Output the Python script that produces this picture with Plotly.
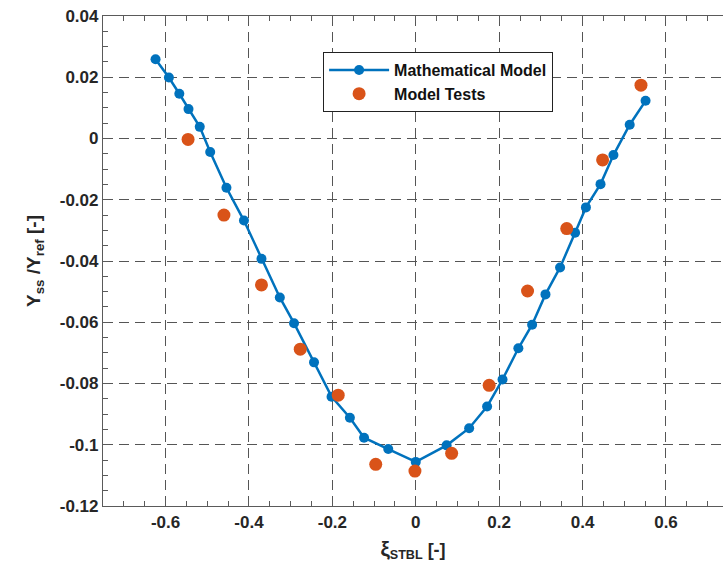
import plotly.graph_objects as go

# Mathematical model (blue line with markers)
model_x = [-0.624, -0.592, -0.567, -0.545, -0.518, -0.493, -0.454, -0.412, -0.370, -0.326,
           -0.292, -0.244, -0.202, -0.158, -0.124, -0.066, 0.000, 0.074, 0.128, 0.171,
           0.208, 0.246, 0.279, 0.311, 0.346, 0.382, 0.408, 0.443, 0.474, 0.513, 0.551]
model_y = [0.0259, 0.0199, 0.0146, 0.0096, 0.0038, -0.0044, -0.0161, -0.0268, -0.0393, -0.0519,
           -0.0603, -0.0731, -0.0843, -0.0912, -0.0977, -0.1014, -0.1056, -0.1002, -0.0946, -0.0875,
           -0.0787, -0.0685, -0.0608, -0.0509, -0.0421, -0.0308, -0.0225, -0.0149, -0.0054, 0.0045, 0.0123]

# Model tests (orange markers)
test_x = [-0.546, -0.460, -0.370, -0.277, -0.186, -0.096, -0.002, 0.086, 0.176, 0.268, 0.362, 0.448, 0.540]
test_y = [-0.0003, -0.0250, -0.0478, -0.0688, -0.0838, -0.1064, -0.1086, -0.1028, -0.0806, -0.0498,
          -0.0294, -0.0070, 0.0174]

x_ticks = [-0.6, -0.4, -0.2, 0, 0.2, 0.4, 0.6]
x_ticklabels = ["-0.6", "-0.4", "-0.2", "0", "0.2", "0.4", "0.6"]
y_ticks = [0.04, 0.02, 0, -0.02, -0.04, -0.06, -0.08, -0.1, -0.12]
y_ticklabels = ["0.04", "0.02", "0", "-0.02", "-0.04", "-0.06", "-0.08", "-0.1", "-0.12"]

BLUE = "#0072BD"
ORANGE = "#D95319"
AXC = "#5a5a5a"
TXT = "#262626"
FONT = "Liberation Sans, Arial, sans-serif"

fig = go.Figure()
fig.add_trace(go.Scatter(x=model_x, y=model_y, mode="lines+markers", name="Mathematical Model",
                         line=dict(color=BLUE, width=2.5),
                         marker=dict(color=BLUE, size=10)))
fig.add_trace(go.Scatter(x=test_x, y=test_y, mode="markers", name="Model Tests",
                         marker=dict(color=ORANGE, size=13)))

fig.update_layout(
    width=723, height=577,
    margin=dict(l=103, r=0, t=16, b=71),
    plot_bgcolor="white", paper_bgcolor="white",
    font=dict(family=FONT, color=TXT),
    showlegend=True,
    legend=dict(x=0.355, y=0.9265, xanchor="left", yanchor="top",
                bgcolor="white", bordercolor="#222222", borderwidth=1,
                font=dict(size=16, color="#111111", weight="bold"),
                itemwidth=60, tracegroupgap=0),
)

fig.update_xaxes(
    range=[-0.75, 0.7367],
    tickmode="array", tickvals=x_ticks, ticktext=x_ticklabels,
    tickfont=dict(size=17, color=TXT, weight="bold", family=FONT),
    ticks="inside", ticklen=6, tickcolor=AXC,
    showline=True, linecolor=AXC, linewidth=1.2, mirror="allticks",
    showgrid=True, gridcolor="#555555", griddash="10px,6px", gridwidth=1,
    zeroline=False,
    minor=dict(dtick=0.05, tick0=0, ticks="inside", ticklen=5, tickcolor=AXC, showgrid=False),
    title=dict(text="<b><span style='font-size:21px'>ξ</span><sub>STBL</sub> [-]</b>",
               font=dict(size=18, color=TXT, family=FONT), standoff=12),
)
fig.update_yaxes(
    range=[-0.12, 0.04],
    tickmode="array", tickvals=y_ticks, ticktext=y_ticklabels,
    tickfont=dict(size=17, color=TXT, weight="bold", family=FONT),
    ticks="inside", ticklen=6, tickcolor=AXC,
    showline=True, linecolor=AXC, linewidth=1.2, mirror=False,
    showgrid=True, gridcolor="#555555", griddash="10px,6px", gridwidth=1,
    zeroline=False,
    minor=dict(dtick=0.005, tick0=0, ticks="inside", ticklen=5, tickcolor=AXC, showgrid=False),
    title=dict(text="<b>Y<sub>ss</sub> /Y<sub>ref</sub> [-]</b>",
               font=dict(size=19, color=TXT, family=FONT), standoff=14),
)

fig.write_html("out.html")
